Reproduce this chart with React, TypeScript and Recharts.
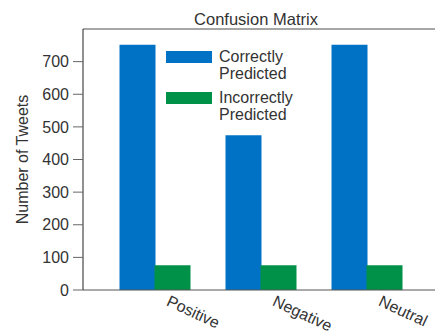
import { BarChart, Bar, XAxis, YAxis, ReferenceLine } from "recharts";

// values
const categories = ["Positive", "Negative", "Neutral"];
const correctlyPredicted = [752, 474, 752];
const incorrectlyPredicted = [76, 76, 76];
const yTicks = [0, 100, 200, 300, 400, 500, 600, 700];

const seriesNames = ["Correctly Predicted", "Incorrectly Predicted"];
const BLUE = "#0072C5";
const GREEN = "#009149";
const seriesColors = [BLUE, GREEN];
const FONT = "'Liberation Sans', Arial, Helvetica, sans-serif";

const data = categories.map((name, i) => ({
  name,
  correct: correctlyPredicted[i],
  incorrect: incorrectlyPredicted[i],
}));

function CategoryTick({ x, y, payload }: any) {
  return (
    <text
      transform={`translate(${x + 11},${y + 15}) rotate(25)`}
      textAnchor="start"
      fontSize={16}
      fontFamily={FONT}
      fill="#333"
    >
      {payload.value}
    </text>
  );
}

// legend drawn as an overlay so it does not take room from the plot
function LegendBox() {
  return (
    <div
      style={{
        position: "absolute",
        left: 166,
        top: 48,
        fontFamily: FONT,
        fontSize: 16,
        lineHeight: "17px",
        color: "#333",
      }}
    >
      {seriesNames.map((label, i) => {
        const words = label.split(" ");
        return (
          <div key={label} style={{ position: "relative", height: 34, marginBottom: 7 }}>
            <div
              style={{
                position: "absolute",
                left: 0,
                top: 3,
                width: 46,
                height: 12,
                background: seriesColors[i],
              }}
            />
            <div style={{ position: "absolute", left: 53, top: 0, whiteSpace: "nowrap" }}>
              <div>{words[0]}</div>
              <div>{words.slice(1).join(" ")}</div>
            </div>
          </div>
        );
      })}
    </div>
  );
}

function YLabel({ viewBox }: any) {
  const cx = viewBox.x + 28;
  const cy = viewBox.y + viewBox.height / 2;
  return (
    <text
      x={cx}
      y={cy}
      transform={`rotate(-90, ${cx}, ${cy})`}
      textAnchor="middle"
      fontSize={16}
      fontFamily={FONT}
      fill="#333"
    >
      Number of Tweets
    </text>
  );
}

export default function App() {
  return (
    <div style={{ position: "absolute", left: 0, top: 0, width: 435, height: 333, background: "#fff" }}>
      <BarChart
        width={435}
        height={333}
        data={data}
        margin={{ top: 29, right: 0, bottom: 0, left: 0 }}
        barSize={36}
        barGap={-1}
      >
        <XAxis
          dataKey="name"
          height={43}
          padding={{ left: 18.5, right: 15.5 }}
          axisLine={{ stroke: "#555" }}
          tickLine={false}
          tickSize={0}
          tickMargin={0}
          tick={<CategoryTick />}
          interval={0}
        />
        <YAxis
          width={83}
          domain={[0, 800]}
          ticks={yTicks}
          tickSize={10}
          tickMargin={4}
          axisLine={{ stroke: "#222" }}
          tickLine={{ stroke: "#666" }}
          tick={{ fontSize: 16, fontFamily: FONT, fill: "#333" }}
          label={<YLabel />}
        />
        <ReferenceLine y={800} stroke="#888" strokeWidth={1.5} />
        <Bar dataKey="correct" name={seriesNames[0]} fill={BLUE} isAnimationActive={false} />
        <Bar dataKey="incorrect" name={seriesNames[1]} fill={GREEN} isAnimationActive={false} />
      </BarChart>
      <div
        style={{
          position: "absolute",
          left: 80,
          width: 352,
          top: 11,
          textAlign: "center",
          fontFamily: FONT,
          fontSize: 16.5,
          lineHeight: "16px",
          color: "#333",
        }}
      >
        Confusion Matrix
      </div>
      <LegendBox />
    </div>
  );
}
